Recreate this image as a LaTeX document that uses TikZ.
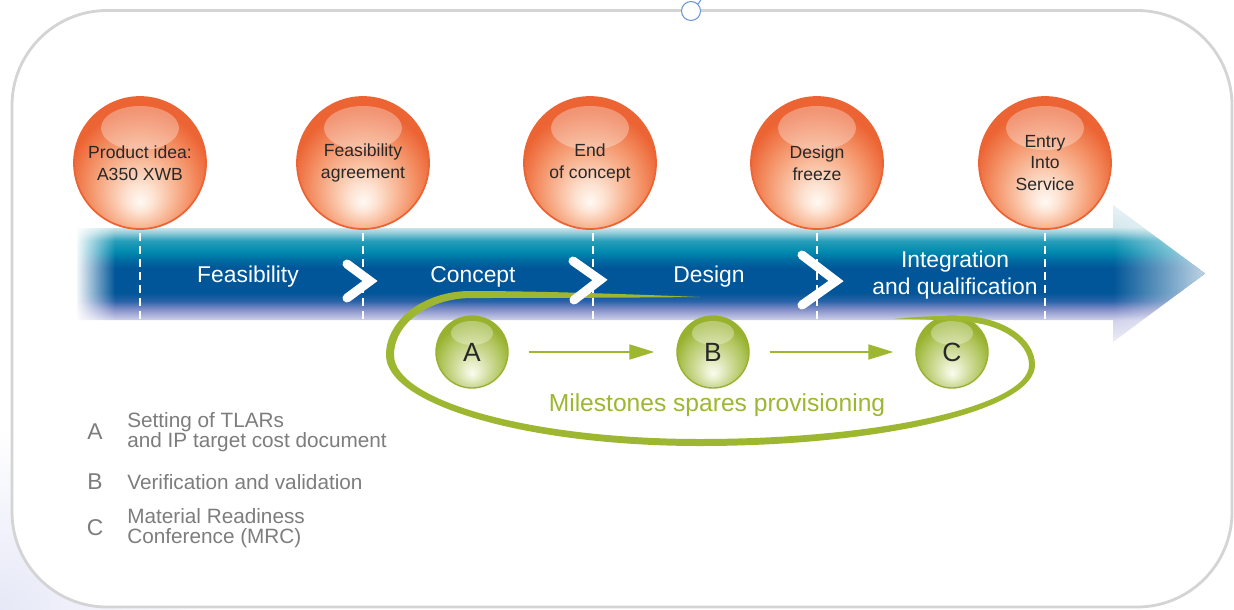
\documentclass[tikz,border=0pt]{standalone}
\usepackage{fontspec}
\setmainfont{Liberation Sans}
\usetikzlibrary{arrows.meta,fadings}

\definecolor{framegray}{RGB}{212,212,212}
\definecolor{handleblue}{RGB}{105,150,215}
\definecolor{lavbg}{RGB}{230,232,247}
\definecolor{bandtop}{RGB}{232,242,246}
\definecolor{bandhigh}{RGB}{212,232,238}
\definecolor{bandpale}{RGB}{150,205,218}
\definecolor{bandcyan}{RGB}{40,158,186}
\definecolor{bandteal}{RGB}{0,138,174}
\definecolor{bandmid}{RGB}{0,108,163}
\definecolor{banddark}{RGB}{0,86,152}
\definecolor{bandlow}{RGB}{40,98,168}
\definecolor{bandviolet}{RGB}{130,142,200}
\definecolor{bandlav}{RGB}{208,210,234}
\definecolor{bandbot}{RGB}{238,238,247}
\definecolor{sphwhite}{RGB}{255,249,244}
\definecolor{sphpale}{RGB}{253,228,212}
\definecolor{sphlight}{RGB}{249,188,156}
\definecolor{sphmid}{RGB}{243,142,98}
\definecolor{sphorange}{RGB}{236,100,52}
\definecolor{sphtext}{RGB}{40,40,40}
\definecolor{grnwhite}{RGB}{250,252,240}
\definecolor{grnpale}{RGB}{234,240,206}
\definecolor{grnlight}{RGB}{208,220,156}
\definecolor{grnmid}{RGB}{180,200,100}
\definecolor{grnedge}{RGB}{152,178,48}
\definecolor{msgreen}{RGB}{158,183,48}
\definecolor{leggray}{RGB}{125,125,125}

\pgfdeclareverticalshading{bandshade}{100bp}{color(0bp)=(bandbot); color(25bp)=(bandbot); color(33bp)=(bandlav); color(37bp)=(bandviolet); color(40bp)=(bandlow); color(43bp)=(banddark); color(52bp)=(banddark); color(55bp)=(bandmid); color(58bp)=(bandteal); color(62bp)=(bandcyan); color(65bp)=(bandpale); color(67bp)=(bandhigh); color(75bp)=(bandtop); color(100bp)=(bandtop)}
\pgfdeclareradialshading{orangeball}{\pgfpoint{0bp}{-15bp}}{color(0bp)=(sphwhite); color(5bp)=(sphpale); color(12bp)=(sphlight); color(20bp)=(sphmid); color(27bp)=(sphorange); color(50bp)=(sphorange)}
\pgfdeclareradialshading{greenball}{\pgfpoint{0bp}{-15bp}}{color(0bp)=(grnwhite); color(5bp)=(grnpale); color(12bp)=(grnlight); color(20bp)=(grnmid); color(27bp)=(grnedge); color(50bp)=(grnedge)}
\tikzfading[name=fadeleft, left color=transparent!0, right color=transparent!100]
\tikzfading[name=faderight, left color=transparent!100, right color=transparent!0]

\begin{document}
\begin{tikzpicture}[
  sphere/.style={circle, minimum size=2.64cm, inner sep=0pt, align=center, shading=orangeball, draw=sphorange, line width=1pt, text=sphtext, font=\fontsize{10}{12.2}\selectfont,
    path picture={\fill[white, opacity=0.32] ([yshift=0.7cm]path picture bounding box.center) ellipse (0.78cm and 0.44cm);}},
  msball/.style={circle, minimum size=1.44cm, inner sep=0pt, shading=greenball, draw=grnedge, line width=0.8pt, text=sphtext, font=\fontsize{15}{18}\selectfont,
    path picture={\fill[white, opacity=0.32] ([yshift=0.38cm]path picture bounding box.center) ellipse (0.42cm and 0.24cm);}},
  phase/.style={text=white, align=center, font=\fontsize{13}{15.3}\selectfont},
  phasetick/.style={white, line width=1.3pt, dash pattern=on 0.15cm off 0.11cm},
  chevron/.style={white, line width=0.18cm, line cap=round, line join=miter},
  msarrow/.style={draw=msgreen, line width=1.1pt, -{Triangle[length=0.5cm, width=0.3cm]}, shorten <=0.4cm, shorten >=0.44cm},
  legletter/.style={text=leggray, font=\fontsize{13}{15}\selectfont},
  legtext/.style={text=leggray, anchor=west, align=left, inner sep=0pt, font=\fontsize{11.8}{11.6}\selectfont}]
\useasboundingbox (0,0) rectangle (24.68,-12.18);
\shade[inner color=lavbg, outer color=white] (0,-12.18) ellipse (4.2cm and 3.6cm);
\fill[white] (0.24,-0.21) [rounded corners=1.9cm] rectangle (24.64,-12.14);
\draw[framegray, line width=1.6pt, rounded corners=1.9cm] (0.24,-0.21) rectangle (24.64,-12.14);
\node (handle) at (13.82,-0.22) [circle, draw=handleblue, fill=white, line width=0.6pt, minimum size=0.38cm, inner sep=0pt] {};
\coordinate (handletip) at (14.03,0.02);
\draw[handleblue, line width=0.6pt] (handle.north east) -- (handletip);

\shade[shading=bandshade] (1.54,-4.56) -- (22.26,-4.56) -- (22.26,-4.10) -- (24.1,-5.47) -- (22.26,-6.84) -- (22.26,-6.40) -- (1.54,-6.40) -- cycle;
\fill[white, path fading=fadeleft] (1.5,-4.5) rectangle (2.3,-6.46);
\fill[white, path fading=faderight, fill opacity=0.75] (22.26,-4.10) -- (24.1,-5.47) -- (22.26,-6.84) -- cycle;

\node (prod) at (2.8,-3.26) [sphere] {Product idea:\\A350 XWB};
\node (feasagr) at (7.26,-3.26) [sphere] {Feasibility\\agreement};
\node (endcon) at (11.8,-3.26) [sphere] {End\\of concept};
\node (desfrz) at (16.34,-3.26) [sphere] {Design\\freeze};
\node (eis) at (20.9,-3.26) [sphere] {Entry\\Into\\Service};

\node (msA) at (9.44,-7.04) [msball] {A};
\node (msB) at (14.26,-7.04) [msball] {B};
\node (msC) at (19.04,-7.04) [msball] {C};

\fill[msgreen] (14.0,-5.94) .. controls (12.0,-5.86) and (10.5,-5.82) .. (9.4,-5.82)
  .. controls (8.48,-5.82) and (7.72,-6.4) .. (7.72,-7.1)
  .. controls (7.72,-8.1) and (10.55,-8.92) .. (14.0,-8.92)
  .. controls (17.69,-8.92) and (20.7,-8.19) .. (20.7,-7.3)
  .. controls (20.7,-6.76) and (20.03,-6.32) .. (19.2,-6.32)
  .. controls (18.6,-6.32) .. (17.9,-6.37)
  .. controls (18.6,-6.39) .. (19.16,-6.43)
  .. controls (19.94,-6.43) and (20.58,-6.82) .. (20.58,-7.3)
  .. controls (20.58,-8.11) and (17.62,-8.78) .. (14.0,-8.78)
  .. controls (10.63,-8.78) and (7.88,-8.02) .. (7.88,-7.1)
  .. controls (7.88,-6.47) and (8.58,-5.96) .. (9.44,-5.96)
  .. controls (11.5,-5.96) and (13.0,-5.95) .. (14.0,-5.94) -- cycle;

\coordinate (ticktop) at (0,-4.66);
\coordinate (tickbot) at (0,-6.42);
\draw[phasetick] (prod |- ticktop) -- (prod |- tickbot);
\draw[phasetick] (feasagr |- ticktop) -- (feasagr |- tickbot);
\draw[phasetick] ([xshift=0.06cm]endcon |- ticktop) -- ([xshift=0.06cm]endcon |- tickbot);
\draw[phasetick] (desfrz |- ticktop) -- (desfrz |- tickbot);
\draw[phasetick] (eis |- ticktop) -- (eis |- tickbot);

\draw[chevron] (6.94,-5.28) -- (7.40,-5.62) -- (6.94,-5.96);
\draw[chevron] (11.46,-5.22) -- (12.0,-5.6) -- (11.48,-6.0);
\draw[chevron] (16.04,-5.1) -- (16.72,-5.62) -- (16.04,-6.1);

\node (phfeas) at (4.96,-5.54) [phase] {Feasibility};
\node (phcon) at (9.46,-5.54) [phase] {Concept};
\node (phdes) at (14.18,-5.54) [phase] {Design};
\node (phint) at (19.1,-5.51) [phase] {Integration\\and qualification};

\draw[msarrow] (msA) -- (msB);
\draw[msarrow] (msB) -- (msC);
\node (provlabel) at (14.34,-8.1) [text=msgreen, font=\fontsize{14}{16}\selectfont] {Milestones spares provisioning};

\node (legA) at (1.9,-8.64) [legletter] {A};
\node (legAtxt) at (2.54,-8.64) [legtext] {Setting of TLARs\\and IP target cost document};
\node (legB) at (1.9,-9.64) [legletter] {B};
\node (legBtxt) at (2.54,-9.64) [legtext] {Verification and validation};
\node (legC) at (1.9,-10.56) [legletter] {C};
\node (legCtxt) at (2.54,-10.56) [legtext] {Material Readiness\\Conference (MRC)};
\end{tikzpicture}
\end{document}
